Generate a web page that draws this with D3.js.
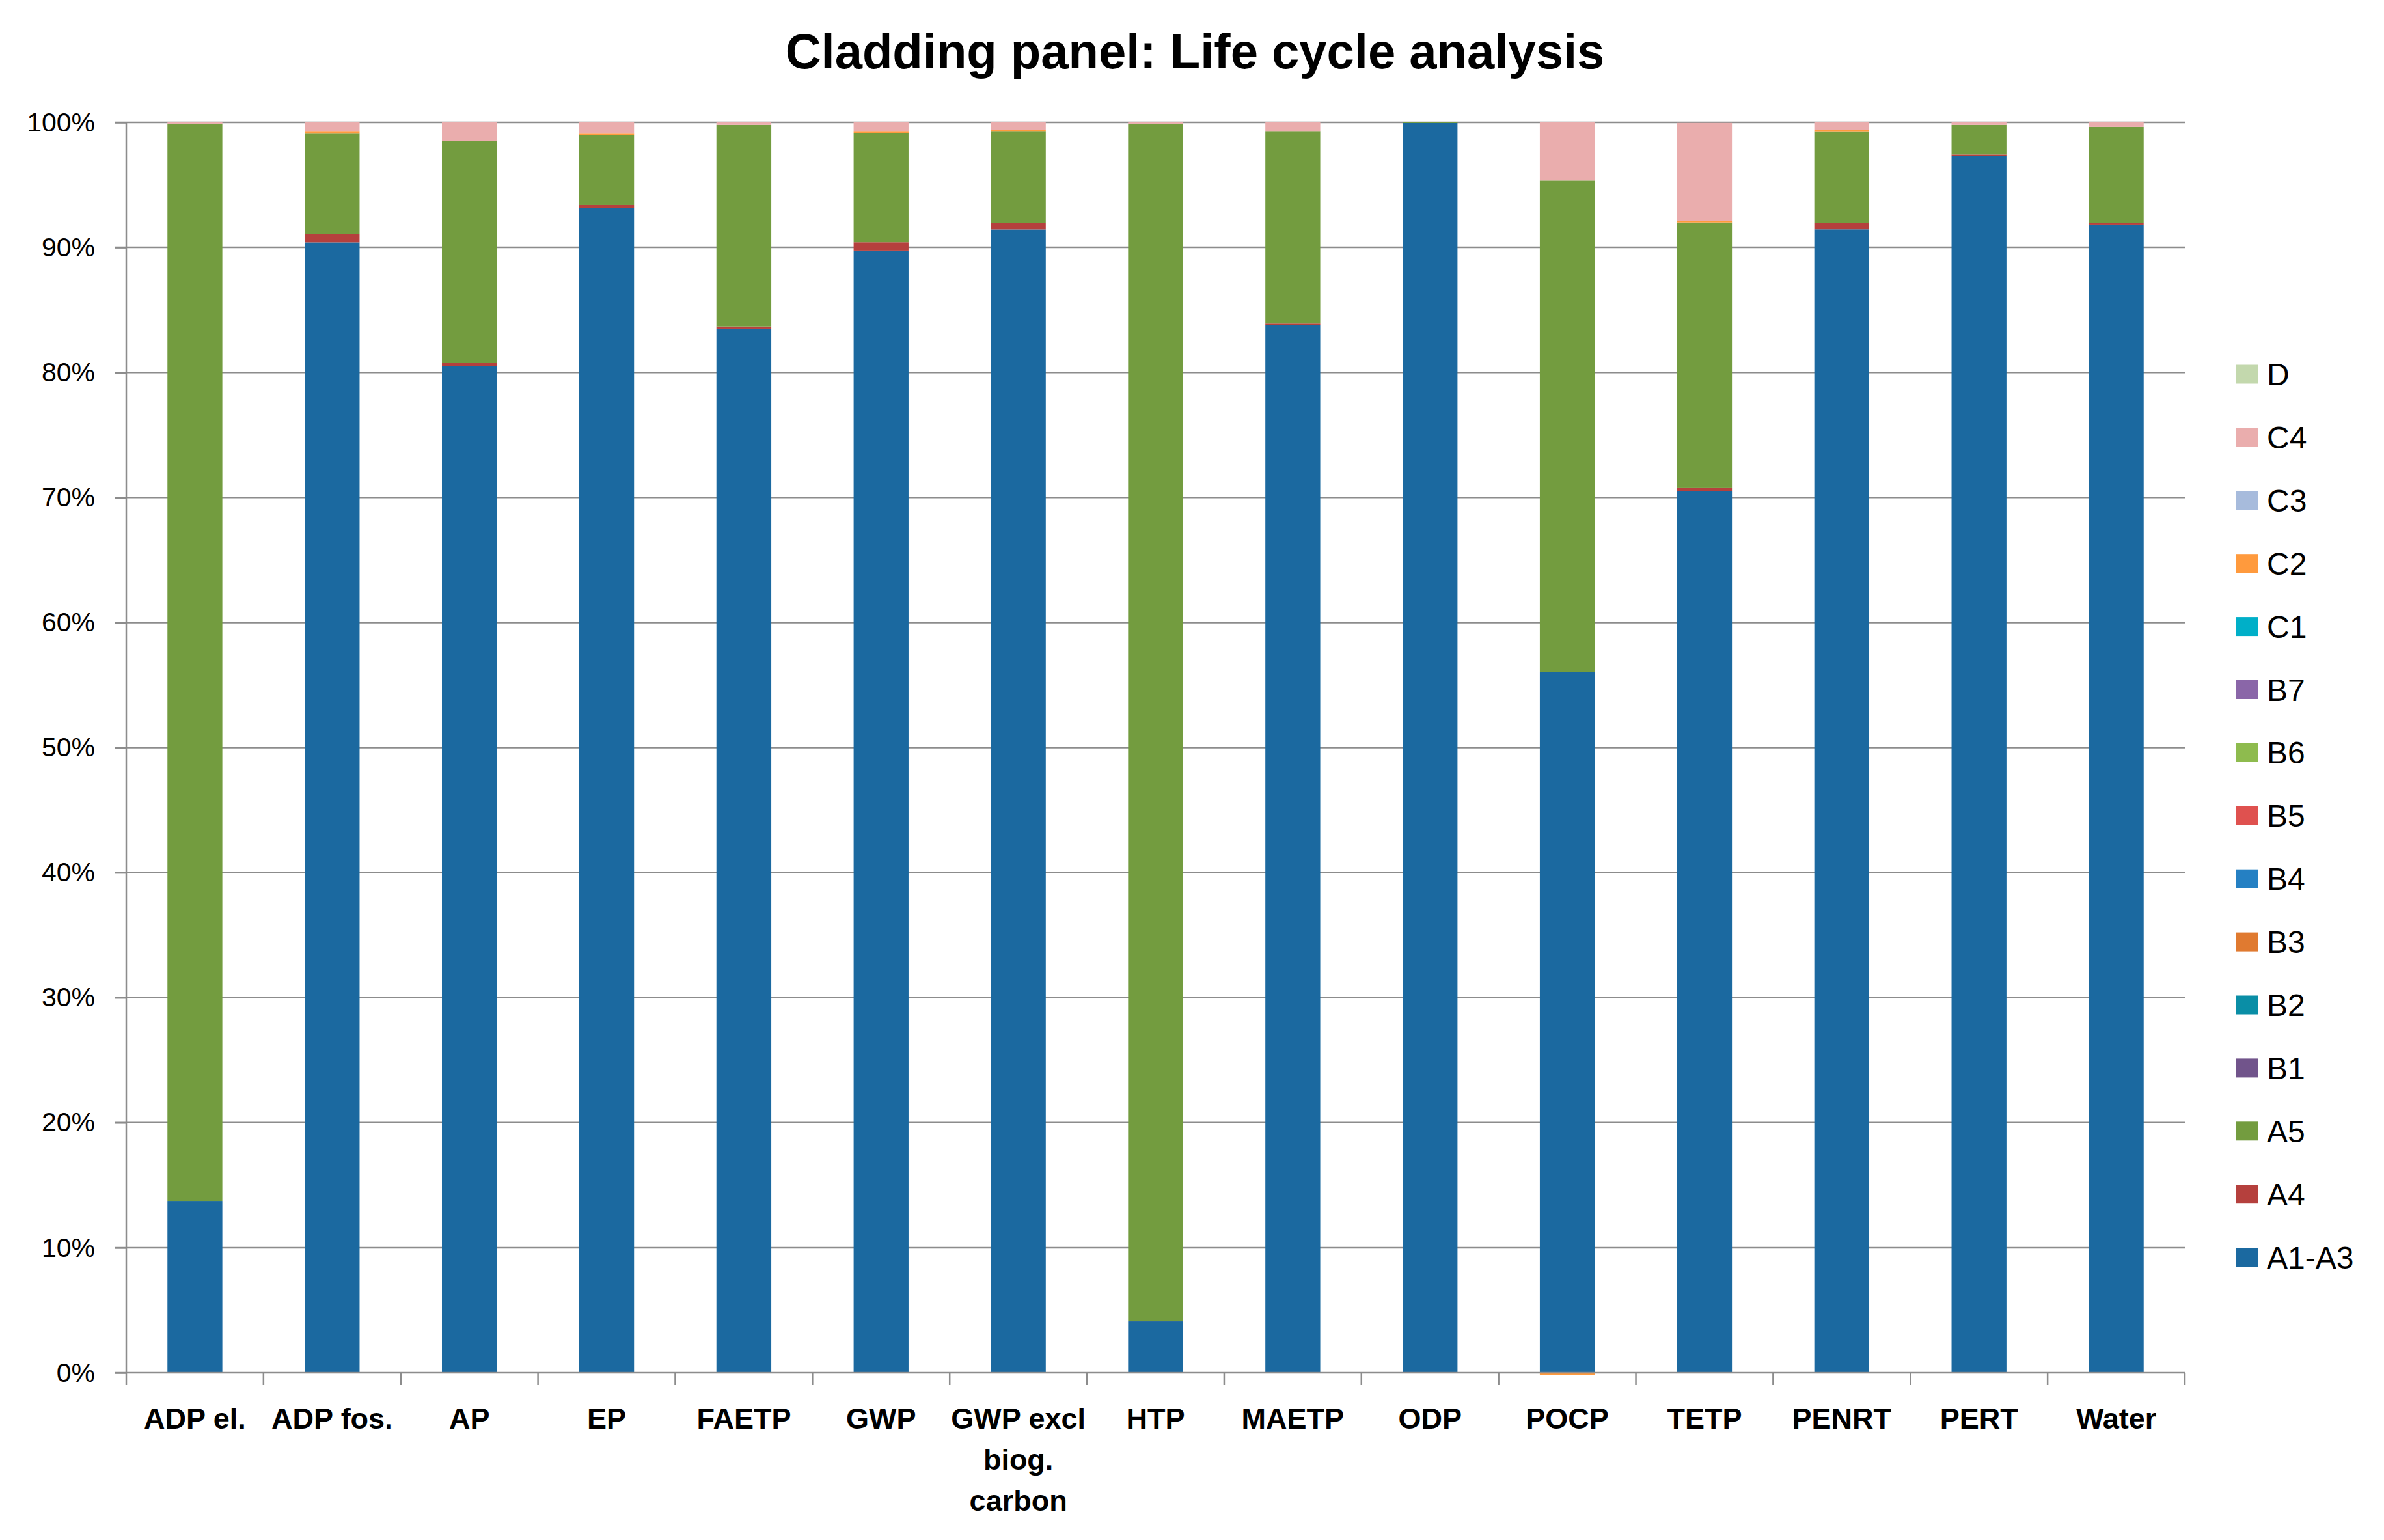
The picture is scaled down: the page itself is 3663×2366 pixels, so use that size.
<!DOCTYPE html>
<html>
<head>
<meta charset="utf-8">
<script src="https://cdn.jsdelivr.net/npm/d3@7"></script>
<style>
  body { margin: 0; background: #fff; }
  text { font-family: "Liberation Sans", Arial, sans-serif; }
</style>
</head>
<body>
<script>
// size of the page and the plot area
const w = 3663;
const h = 2366;
const plotLeft = 194, plotRight = 3357, plotTop = 188, plotBottom = 2109;

// categories on the x axis
const categories = ["ADP el.", "ADP fos.", "AP", "EP", "FAETP", "GWP", "GWP excl biog. carbon",
                    "HTP", "MAETP", "ODP", "POCP", "TETP", "PENRT", "PERT", "Water"];

// modules, bottom of the stack first
const modules = ["A1-A3", "A4", "A5", "B1", "B2", "B3", "B4", "B5", "B6", "B7", "C1", "C2", "C3", "C4", "D"];
const colors  = ["#1b69a0", "#b5403d", "#739c3f", "#71548b", "#0a8ea6", "#e07a30", "#2580c3", "#df514f",
                 "#8ebb4e", "#8a66a8", "#00afc8", "#ff9a3d", "#a7bbdc", "#eaadad", "#c3d8ad"];

// shares in percent, one value per category
const a1a3 = [13.74, 90.4, 80.52, 93.15, 83.5, 89.75, 91.44, 4.11, 83.76, 99.95, 56.03, 70.5, 91.45, 97.3, 91.83];
const a4   = [0, 0.65, 0.26, 0.24, 0.17, 0.66, 0.52, 0.05, 0.14, 0, 0, 0.3, 0.52, 0.13, 0.14];
const a5   = [86.16, 8.05, 17.72, 5.58, 16.13, 8.71, 7.3, 95.74, 15.36, 0.05, 39.32, 21.2, 7.27, 2.37, 7.67];
const b1   = [0, 0, 0, 0, 0, 0, 0, 0, 0, 0, 0, 0, 0, 0, 0];
const b2   = [0, 0, 0, 0, 0, 0, 0, 0, 0, 0, 0, 0, 0, 0, 0];
const b3   = [0, 0, 0, 0, 0, 0, 0, 0, 0, 0, 0, 0, 0, 0, 0];
const b4   = [0, 0, 0, 0, 0, 0, 0, 0, 0, 0, 0, 0, 0, 0, 0];
const b5   = [0, 0, 0, 0, 0, 0, 0, 0, 0, 0, 0, 0, 0, 0, 0];
const b6   = [0, 0, 0, 0, 0, 0, 0, 0, 0, 0, 0, 0, 0, 0, 0];
const b7   = [0, 0, 0, 0, 0, 0, 0, 0, 0, 0, 0, 0, 0, 0, 0];
const c1   = [0, 0, 0, 0, 0, 0, 0, 0, 0, 0, 0, 0, 0, 0, 0];
const c2   = [0, 0.16, 0, 0.13, 0, 0.14, 0.14, 0, 0, 0, -0.2, 0.13, 0.16, 0, 0];
const c3   = [0, 0, 0, 0, 0, 0, 0, 0, 0, 0, 0, 0, 0, 0, 0];
const c4   = [0.1, 0.74, 1.5, 0.9, 0.2, 0.74, 0.6, 0.1, 0.74, 0, 4.65, 7.83, 0.6, 0.2, 0.36];
const modD = [0, 0, 0, 0, 0, 0, 0, 0, 0, 0, 0, 0, 0, 0, 0];

const yTicks = [0, 10, 20, 30, 40, 50, 60, 70, 80, 90, 100];

const seriesValues = [a1a3, a4, a5, b1, b2, b3, b4, b5, b6, b7, c1, c2, c3, c4, modD];

// table for d3.stack
const table = categories.map(function(c, i) {
  const row = {cat: c};
  modules.forEach(function(m, j) { row[m] = seriesValues[j][i]; });
  return row;
});

const svg = d3.select("body")
              .append("svg")
              .attr("width", w)
              .attr("height", h);

svg.append("rect").attr("width", w).attr("height", h).attr("fill", "#fff");

const xScale = d3.scaleBand()
                 .domain(categories)
                 .range([plotLeft, plotRight])
                 .paddingInner(0.6)
                 .paddingOuter(0.3);
const yScale = d3.scaleLinear()
                 .domain([0, 100])
                 .range([plotBottom, plotTop]);

//title
svg.append("text")
   .attr("x", 1836)
   .attr("y", 105)
   .attr("text-anchor", "middle")
   .style("font-size", "76px")
   .style("font-weight", "bold")
   .text("Cladding panel: Life cycle analysis");

// gridlines
svg.append("g")
   .selectAll("line")
   .data(yTicks.filter(t => t > 0))
   .enter()
   .append("line")
   .attr("x1", plotLeft - 18)
   .attr("x2", plotRight)
   .attr("y1", t => yScale(t))
   .attr("y2", t => yScale(t))
   .attr("stroke", "#8c8c8c")
   .attr("stroke-width", 2.5);

// bars
const stack = d3.stack().keys(modules).offset(d3.stackOffsetDiverging);
const layers = stack(table);

svg.append("g")
   .selectAll("g")
   .data(layers)
   .enter()
   .append("g")
   .attr("fill", (s, i) => colors[i])
   .selectAll("rect")
   .data(s => s.filter(p => p[1] !== p[0]))
   .enter()
   .append("rect")
   .attr("x", p => xScale(p.data.cat))
   .attr("width", xScale.bandwidth())
   .attr("y", p => yScale(Math.max(p[0], p[1])))
   .attr("height", p => Math.abs(yScale(p[0]) - yScale(p[1])));

// y axis
const yAxis = d3.axisLeft(yScale)
                .tickValues(yTicks)
                .tickSize(18)
                .tickPadding(30)
                .tickFormat(t => t + "%");
const gy = svg.append("g")
   .attr("transform", "translate(" + plotLeft + ",0)")
   .call(yAxis);
gy.attr("font-family", null).attr("font-size", null);
gy.select(".domain").attr("stroke", "#8c8c8c").attr("stroke-width", 2.5).attr("d", "M0," + plotTop + "V" + plotBottom);
gy.selectAll(".tick line").attr("stroke", "#8c8c8c").attr("stroke-width", 2.5);
gy.selectAll(".tick text")
  .style("font-size", "41px")
  .attr("fill", "#000");

// x axis: line along 0%, ticks between categories
const xAxis = d3.axisBottom(xScale).tickSize(0).tickFormat("");
const gx = svg.append("g")
   .attr("transform", "translate(0," + plotBottom + ")")
   .call(xAxis);
gx.select(".domain").attr("stroke", "#8c8c8c").attr("stroke-width", 2.5).attr("d", "M" + (plotLeft - 18) + ",0H" + plotRight);
gx.selectAll(".tick").remove();

const step = xScale.step();
svg.append("g")
   .selectAll("line")
   .data(d3.range(categories.length + 1))
   .enter()
   .append("line")
   .attr("x1", i => plotLeft + i * step)
   .attr("x2", i => plotLeft + i * step)
   .attr("y1", plotBottom)
   .attr("y2", plotBottom + 19)
   .attr("stroke", "#8c8c8c")
   .attr("stroke-width", 2.5);

// category labels, wrapped to the band
const labels = svg.append("g")
   .selectAll("text")
   .data(categories)
   .enter()
   .append("text")
   .attr("x", c => xScale(c) + xScale.bandwidth() / 2)
   .attr("y", 2195)
   .attr("text-anchor", "middle")
   .style("font-size", "45px")
   .style("font-weight", "bold");

labels.each(function(c) {
  const t = d3.select(this);
  const x = t.attr("x");
  const words = c.split(" ");
  let line = [];
  let tspan = t.append("tspan").attr("x", x).attr("dy", 0);
  words.forEach(function(wd) {
    line.push(wd);
    tspan.text(line.join(" "));
    if (tspan.node().getComputedTextLength() > 215 && line.length > 1) {
      line.pop();
      tspan.text(line.join(" "));
      line = [wd];
      tspan = t.append("tspan").attr("x", x).attr("dy", 63).text(wd);
    }
  });
});

// legend, D on top
const legend = svg.append("g")
   .selectAll("g")
   .data(modules.slice().reverse())
   .enter()
   .append("g")
   .attr("transform", (m, i) => "translate(3436," + (575 + i * 96.9) + ")");
legend.append("rect")
   .attr("x", 0)
   .attr("y", -14.5)
   .attr("width", 33)
   .attr("height", 29)
   .attr("fill", m => colors[modules.indexOf(m)]);
legend.append("text")
   .attr("x", 47)
   .attr("y", 17)
   .style("font-size", "48px")
   .text(m => m);
</script>
</body>
</html>
